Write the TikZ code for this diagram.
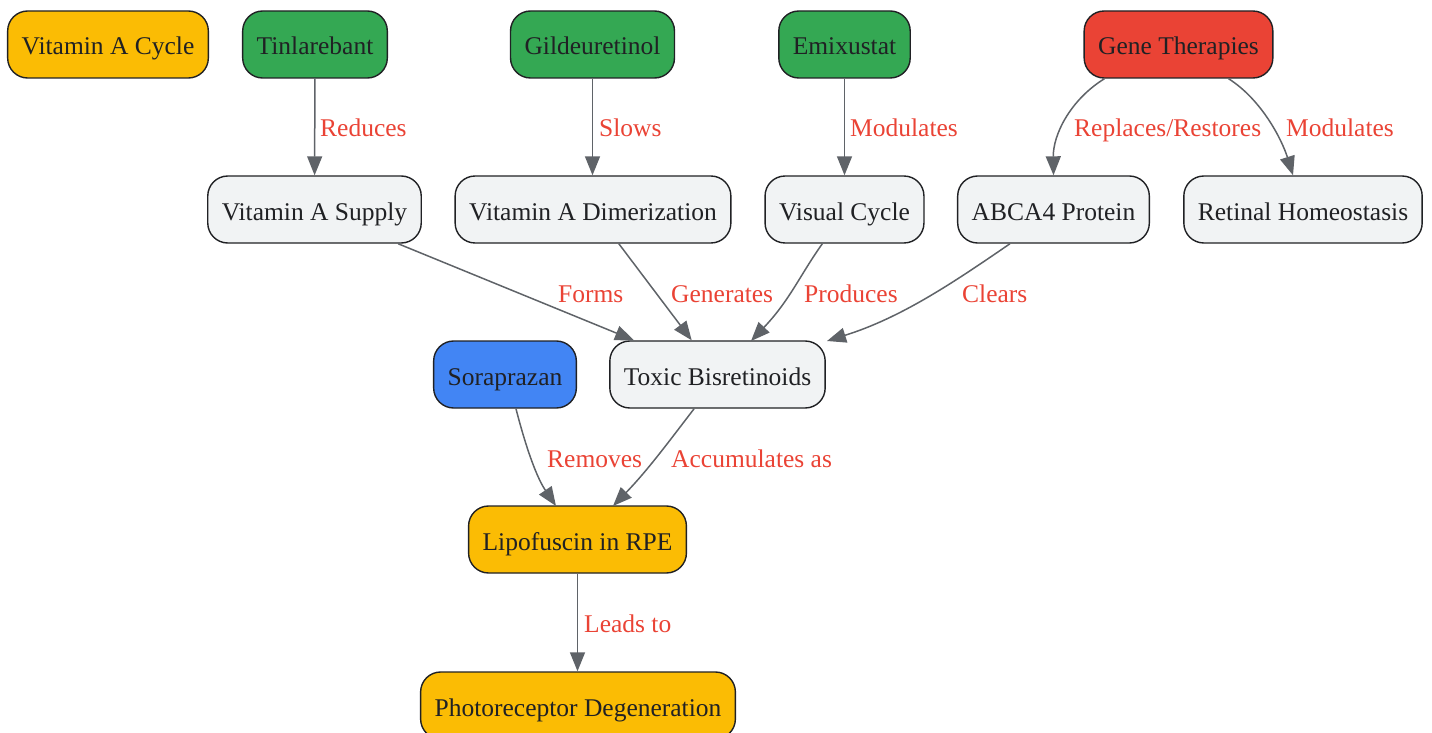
\documentclass[tikz,border=0pt]{standalone}
\usepackage{fontspec}
\setmainfont{Liberation Serif}
\usetikzlibrary{arrows.meta}
\definecolor{cyellow}{HTML}{FBBC04}
\definecolor{cgreen}{HTML}{34A853}
\definecolor{cred}{HTML}{EA4335}
\definecolor{cblue}{HTML}{4285F4}
\definecolor{cgray}{HTML}{F1F3F4}
\definecolor{cedge}{HTML}{5F6368}
\definecolor{ctext}{HTML}{202124}
\tikzset{
  box/.style={draw=ctext, line width=1.4pt, rounded corners=20pt, minimum height=67pt,
    inner xsep=14pt, inner ysep=0pt, text=ctext, font=\fontsize{25.5}{30}\selectfont,
    text height=21pt, text depth=0pt},
  yel/.style={box, fill=cyellow},
  grn/.style={box, fill=cgreen},
  rd/.style={box, fill=cred},
  blu/.style={box, fill=cblue},
  gry/.style={box, fill=cgray},
  conn/.style={draw=cedge, line width=1.5pt, -{Triangle[length=19pt,width=15pt]}},
  lbl/.style={text=cred, font=\fontsize{25.5}{30}\selectfont, inner sep=0pt, anchor=west,
    text height=18pt, text depth=0pt},
}
\begin{document}
\begin{tikzpicture}[x=1pt,y=-1pt]
\useasboundingbox (0,0) rectangle (1432,733);
% row 1
\node[yel] (cycle) at (108,44.5) {Vitamin A Cycle};
\node[grn] (tin) at (315,44.5) {Tinlarebant};
\node[grn] (gil) at (592.5,44.5) {Gildeuretinol};
\node[grn] (emi) at (844.5,44.5) {Emixustat};
\node[rd] (gene) at (1178.5,44.5) {Gene Therapies};
% row 2
\node[gry] (supply) at (314.5,209.5) {Vitamin A Supply};
\node[gry] (dimer) at (593,209.5) {Vitamin A Dimerization};
\node[gry] (visual) at (844.5,209.5) {Visual Cycle};
\node[gry] (abca) at (1053.5,209.5) {ABCA4 Protein};
\node[gry] (homeo) at (1303,209.5) {Retinal Homeostasis};
% row 3
\node[blu] (sora) at (505,374.5) {Soraprazan};
\node[gry] (toxic) at (717.5,374.5) {Toxic Bisretinoids};
% row 4
\node[yel] (lipo) at (577.5,539.5) {Lipofuscin in RPE};
% row 5
\node[yel] (photo) at (578,705.5) {Photoreceptor Degeneration};
% edges
\draw[conn] (tin) -- (supply);
\draw[conn] (gil) -- (gil |- dimer.north);
\draw[conn] (emi) -- (visual);
\draw[conn] ([xshift=21pt]gene.south west) .. controls (1070,100) and (1053,135) .. (abca.north);
\draw[conn] ([xshift=-45pt]gene.south east) .. controls (1262,100) and (1282,140) .. ([xshift=-10pt]homeo.north);
\draw[conn] (supply) -- (toxic);
\draw[conn] (dimer) -- (toxic);
\draw[conn] ([xshift=58pt]visual.south west) .. controls (800,275) and (790,300) .. (751,341);
\draw[conn] ([xshift=53pt]abca.south west) .. controls (950,285) and (900,318) .. (827,341);
\draw[conn] ([xshift=83pt]sora.south west) .. controls (524,440) and (535,475) .. (556,506);
\draw[conn] ([xshift=85pt]toxic.south west) .. controls (670,440) and (648,470) .. (613,506);
\draw[conn] (lipo) -- (lipo |- photo.north);
% labels
\node[lbl] (l1) at (320,128) {Reduces};
\node[lbl] (l2) at (599,128) {Slows};
\node[lbl] (l3) at (850,128) {Modulates};
\node[lbl] (l4) at (1074,128) {Replaces/Restores};
\node[lbl] (l5) at (1286,128) {Modulates};
\node[lbl] (l6) at (558,293) {Forms};
\node[lbl] (l7) at (671,293) {Generates};
\node[lbl] (l8) at (804,293) {Produces};
\node[lbl] (l9) at (962,293) {Clears};
\node[lbl] (l10) at (547,458) {Removes};
\node[lbl] (l11) at (671,458) {Accumulates as};
\node[lbl] (l12) at (584,623) {Leads to};
\end{tikzpicture}
\end{document}
